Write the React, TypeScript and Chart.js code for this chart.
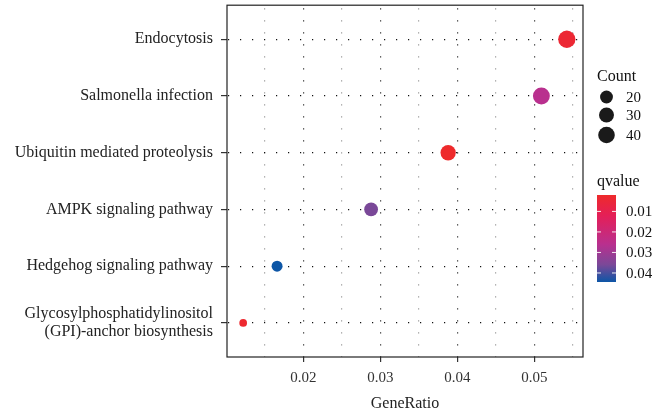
import React, { useEffect, useRef } from "react";
import { Chart, registerables } from "chart.js";

Chart.register(...registerables);

// ---- data ----
const categories: string[] = [
  "Glycosylphosphatidylinositol\n(GPI)-anchor biosynthesis",
  "Hedgehog signaling pathway",
  "AMPK signaling pathway",
  "Ubiquitin mediated proteolysis",
  "Salmonella infection",
  "Endocytosis",
];
const geneRatio: number[] = [0.0122, 0.0166, 0.0288, 0.0388, 0.0509, 0.0542];
const counts: number[] = [10, 14, 24, 32, 42, 45];
const qvalues: number[] = [0.003, 0.0444, 0.036, 0.002, 0.026, 0.004];

const xTicks: number[] = [0.015, 0.02, 0.025, 0.03, 0.035, 0.04, 0.045, 0.05, 0.055];
const xMajor: number[] = [0.02, 0.03, 0.04, 0.05];
const countLegend: number[] = [20, 30, 40];
const qLegend: number[] = [0.01, 0.02, 0.03, 0.04];
const qMin = 0.002;
const qMax = 0.0444;

// ---- styling helpers ----
const FONT = '"Liberation Serif", "Times New Roman", serif';
const SHIFT = 12; // canvas is placed SHIFT px above the page top
const D_MIN = 7.7;
const D_MAX = 17.3;
const cMin = Math.min(...counts);
const cMax = Math.max(...counts);
function radiusFor(c: number): number {
  const t = Math.max(0, (c - cMin) / (cMax - cMin));
  return (D_MIN + (D_MAX - D_MIN) * Math.sqrt(t)) / 2;
}

const colorStops: [number, [number, number, number]][] = [
  [0.0, [238, 42, 43]],
  [0.24, [228, 31, 88]],
  [0.57, [184, 48, 143]],
  [0.8, [123, 72, 152]],
  [1.0, [13, 86, 166]],
];
function rgbAt(t: number): string {
  t = Math.min(1, Math.max(0, t));
  for (let i = 1; i < colorStops.length; i++) {
    const [t1, c1] = colorStops[i];
    const [t0, c0] = colorStops[i - 1];
    if (t <= t1) {
      const f = (t - t0) / (t1 - t0);
      const c = c0.map((v, k) => Math.round(v + (c1[k] - v) * f));
      return `rgb(${c[0]},${c[1]},${c[2]})`;
    }
  }
  const c = colorStops[colorStops.length - 1][1];
  return `rgb(${c[0]},${c[1]},${c[2]})`;
}
function colorForQ(q: number): string {
  return rgbAt((q - qMin) / (qMax - qMin));
}

const isMajor = (v: number) => xMajor.some((m) => Math.abs(m - v) < 1e-9);

const legendPlugin = {
  id: "ggLegend",
  afterDraw(chart: any) {
    const ctx: CanvasRenderingContext2D = chart.ctx;
    const a = chart.chartArea;
    ctx.save();
    // panel border
    ctx.strokeStyle = "#222";
    ctx.lineWidth = 1.2;
    ctx.strokeRect(a.left, a.top, a.right - a.left, a.bottom - a.top);

    const lx = a.right + 14;
    const o = SHIFT;
    ctx.textAlign = "left";
    ctx.textBaseline = "middle";
    ctx.fillStyle = "#111";
    ctx.font = `16px ${FONT}`;
    ctx.fillText("Count", lx, 77 + o);

    const ys = [97, 115, 135];
    ctx.font = `15px ${FONT}`;
    countLegend.forEach((c, i) => {
      ctx.beginPath();
      ctx.fillStyle = "#1a1a1a";
      ctx.arc(lx + 9.5, ys[i] + o, radiusFor(c), 0, Math.PI * 2);
      ctx.fill();
      ctx.fillStyle = "#111";
      ctx.fillText(String(c), lx + 29, ys[i] + o + 1);
    });

    // qvalue colorbar
    ctx.font = `16px ${FONT}`;
    ctx.fillStyle = "#111";
    ctx.fillText("qvalue", lx, 182 + o);
    const bx = lx, bw = 19, by = 195 + o, bh = 87;
    const grad = ctx.createLinearGradient(0, by, 0, by + bh);
    colorStops.forEach(([t]) => grad.addColorStop(t, rgbAt(t)));
    ctx.fillStyle = grad;
    ctx.fillRect(bx, by, bw, bh);
    ctx.font = `15px ${FONT}`;
    qLegend.forEach((q) => {
      const y = by + ((q - qMin) / (qMax - qMin)) * bh;
      ctx.strokeStyle = "rgba(255,255,255,0.9)";
      ctx.lineWidth = 1;
      ctx.beginPath();
      ctx.moveTo(bx, y);
      ctx.lineTo(bx + 4, y);
      ctx.moveTo(bx + bw - 4, y);
      ctx.lineTo(bx + bw, y);
      ctx.stroke();
      ctx.fillStyle = "#111";
      ctx.fillText(q.toFixed(2), lx + 29, y + 1);
    });
    ctx.restore();
  },
};

export default function App() {
  const ref = useRef<HTMLCanvasElement | null>(null);
  useEffect(() => {
    if (!ref.current) return;
    const data = geneRatio.map((x, i) => ({ x, y: i + 1 }));
    const chart = new Chart(ref.current, {
      type: "scatter",
      data: {
        datasets: [
          {
            data,
            pointRadius: counts.map(radiusFor),
            pointHoverRadius: counts.map(radiusFor),
            pointBackgroundColor: qvalues.map(colorForQ),
            pointBorderWidth: 0,
            pointBorderColor: "rgba(0,0,0,0)",
          },
        ],
      },
      options: {
        animation: false,
        responsive: true,
        maintainAspectRatio: false,
        layout: { autoPadding: false, padding: { top: 5, right: 70, left: 0, bottom: 0 } },
        plugins: { legend: { display: false }, tooltip: { enabled: false } },
        scales: {
          x: {
            type: "linear",
            min: 0.0101,
            max: 0.0563,
            afterBuildTicks: (s: any) => {
              s.ticks = xTicks.map((v) => ({ value: v }));
            },
            afterFit: (s: any) => {
              s.height = 60;
            },
            ticks: {
              autoSkip: false,
              maxRotation: 0,
              padding: 7,
              color: "#333",
              font: { family: FONT, size: 15 },
              callback: (v: any) => (isMajor(Number(v)) ? Number(v).toFixed(2) : ""),
            },
            grid: {
              color: (c: any) => (c.tick && isMajor(c.tick.value) ? "#333" : "#9a9a9a"),
              lineWidth: 1.2,
              tickLength: 5,
              tickColor: (c: any) => (c.tick && isMajor(c.tick.value) ? "#333" : "rgba(0,0,0,0)"),
              tickWidth: 1.2,
            },
            border: { display: false, dash: [1.2, 10.8], dashOffset: -3 },
            title: {
              display: true,
              text: "GeneRatio",
              color: "#222",
              font: { family: FONT, size: 16 },
              padding: { top: 0, bottom: 4 },
            },
          },
          y: {
            type: "linear",
            min: 0.4,
            max: 6.6,
            afterBuildTicks: (s: any) => {
              s.ticks = categories.map((_, i) => ({ value: i + 1 }));
            },
            afterFit: (s: any) => {
              s.width = 227;
            },
            ticks: {
              autoSkip: false,
              padding: 8,
              color: "#222",
              font: { family: FONT, size: 16, lineHeight: 1.15 },
              callback: (v: any) => {
                const lbl = categories[Math.round(Number(v)) - 1] || "";
                return lbl.includes("\n") ? lbl.split("\n") : lbl;
              },
            },
            grid: {
              color: "#111",
              lineWidth: 1.2,
              tickLength: 6,
              tickColor: "#333",
              tickWidth: 1.2,
            },
            border: { display: false, dash: [1.2, 10.8], dashOffset: -1 },
          },
        },
      },
      plugins: [legendPlugin],
    });
    return () => chart.destroy();
  }, []);
  return (
    <div
      style={{
        position: "absolute",
        left: 0,
        top: -SHIFT,
        width: 653,
        height: 417 + SHIFT,
        background: "#fff",
      }}
    >
      <canvas ref={ref} />
    </div>
  );
}
